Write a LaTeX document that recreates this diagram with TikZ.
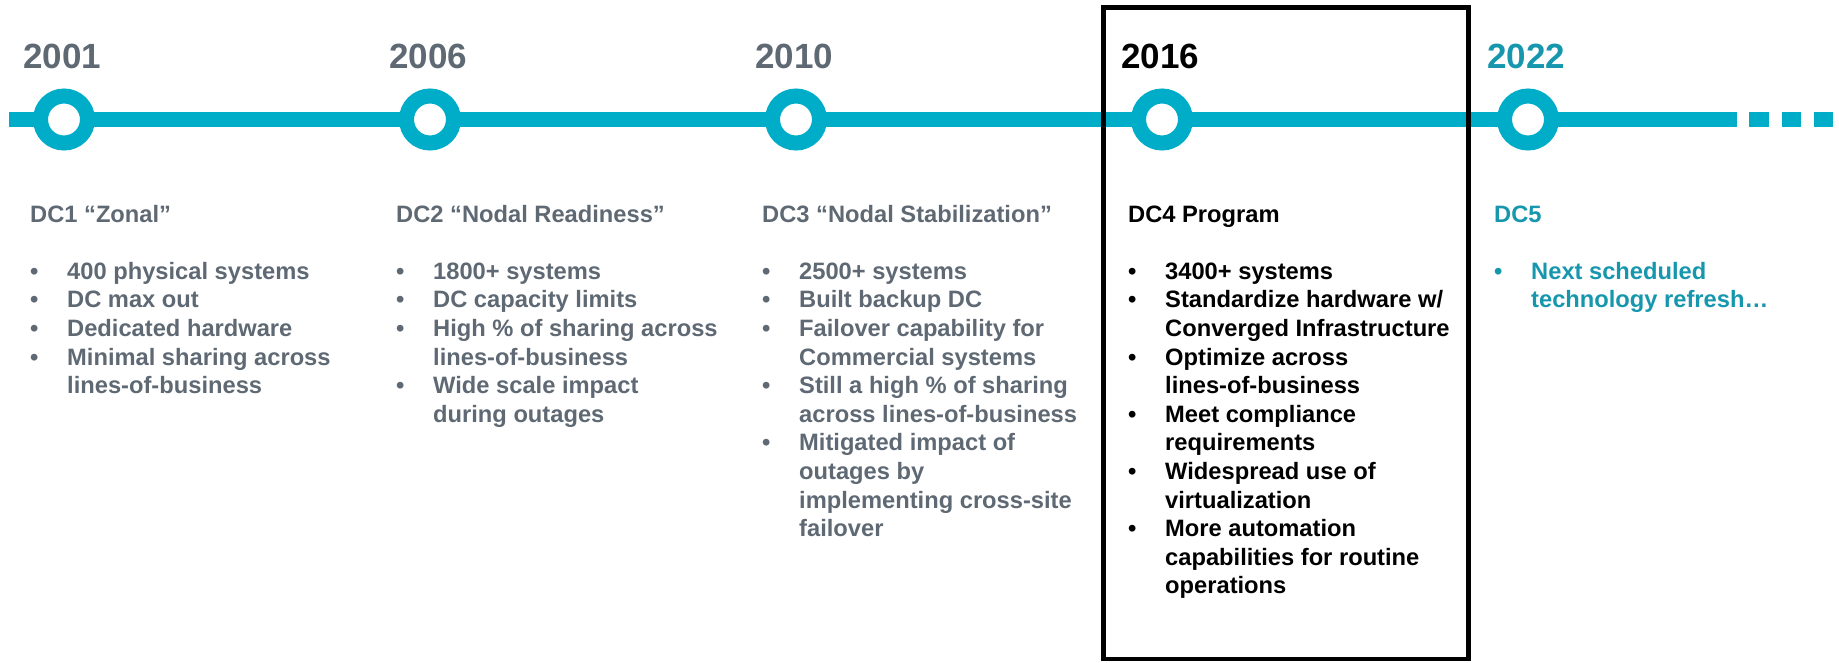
\documentclass[tikz,border=0pt]{standalone}
\usepackage{fontspec}
\setmainfont{Liberation Sans}
\definecolor{tl}{HTML}{00ADC8}
\definecolor{gr}{HTML}{5F6974}
\definecolor{tk}{HTML}{1797AD}
\newcommand{\itm}[1]{\textbullet & #1\\}
\newcommand{\cnt}[1]{& #1\\}
\newcommand{\hdr}[1]{\multicolumn{2}{@{}l@{}}{#1}\\ \\}
\newenvironment{colbody}{\begin{tabular}[t]{@{}p{37pt}@{}l@{}}}{\end{tabular}}
\tikzset{
  year/.style={anchor=base west, inner sep=0pt, font=\fontsize{35pt}{40pt}\selectfont\bfseries},
  colx/.style={anchor=base west, inner sep=0pt, font=\fontsize{23.7pt}{28.6pt}\selectfont\bfseries},
  ring/.style={circle, draw=tl, line width=15pt, fill=white, minimum size=47pt, inner sep=0pt},
  dashbox/.style={fill=tl, draw=none},
}
\begin{document}
\begin{tikzpicture}[x=1pt,y=-1pt]
\useasboundingbox (0,0) rectangle (1839,662);
% timeline
\coordinate (ls) at (9,119.5);
\coordinate (le) at (1737,119.5);
\draw[tl, line width=15pt] (ls) -- (le);
\fill[dashbox] (1749,112) rectangle (1769,127);
\fill[dashbox] (1782,112) rectangle (1801,127);
\fill[dashbox] (1814,112) rectangle (1833,127);
% circles
\node[ring] (p1) at (64,119.5) {};
\node[ring] (p2) at (430,119.5) {};
\node[ring] (p3) at (796,119.5) {};
\node[ring] (p4) at (1162,119.5) {};
\node[ring] (p5) at (1528,119.5) {};
% years
\node[year, text=gr] (y1) at (23,68) {2001};
\node[year, text=gr] (y2) at (389,68) {2006};
\node[year, text=gr] (y3) at (755,68) {2010};
\node[year, text=black] (y4) at (1121,68) {2016};
\node[year, text=tk] (y5) at (1487,68) {2022};
% columns
\node[colx, text=gr] (c1) at (30,222) {\begin{colbody}
\hdr{DC1 “Zonal”}
\itm{400 physical systems}
\itm{DC max out}
\itm{Dedicated hardware}
\itm{Minimal sharing across}
\cnt{lines-of-business}
\end{colbody}};
\node[colx, text=gr] (c2) at (396,222) {\begin{colbody}
\hdr{DC2 “Nodal Readiness”}
\itm{1800+ systems}
\itm{DC capacity limits}
\itm{High \% of sharing across}
\cnt{lines-of-business}
\itm{Wide scale impact}
\cnt{during outages}
\end{colbody}};
\node[colx, text=gr] (c3) at (762,222) {\begin{colbody}
\hdr{DC3 “Nodal Stabilization”}
\itm{2500+ systems}
\itm{Built backup DC}
\itm{Failover capability for}
\cnt{Commercial systems}
\itm{Still a high \% of sharing}
\cnt{across lines-of-business}
\itm{Mitigated impact of}
\cnt{outages by}
\cnt{implementing cross-site}
\cnt{failover}
\end{colbody}};
\node[colx, text=black] (c4) at (1128,222) {\begin{colbody}
\hdr{DC4 Program}
\itm{3400+ systems}
\itm{Standardize hardware w/}
\cnt{Converged Infrastructure}
\itm{Optimize across}
\cnt{lines-of-business}
\itm{Meet compliance}
\cnt{requirements}
\itm{Widespread use of}
\cnt{virtualization}
\itm{More automation}
\cnt{capabilities for routine}
\cnt{operations}
\end{colbody}};
\node[colx, text=tk] (c5) at (1494,222) {\begin{colbody}
\hdr{DC5}
\itm{Next scheduled}
\cnt{technology refresh…}
\end{colbody}};
% highlight box
\draw[black, line width=4.5pt] (1103.5,7.5) rectangle (1468.5,659);
\end{tikzpicture}
\end{document}
